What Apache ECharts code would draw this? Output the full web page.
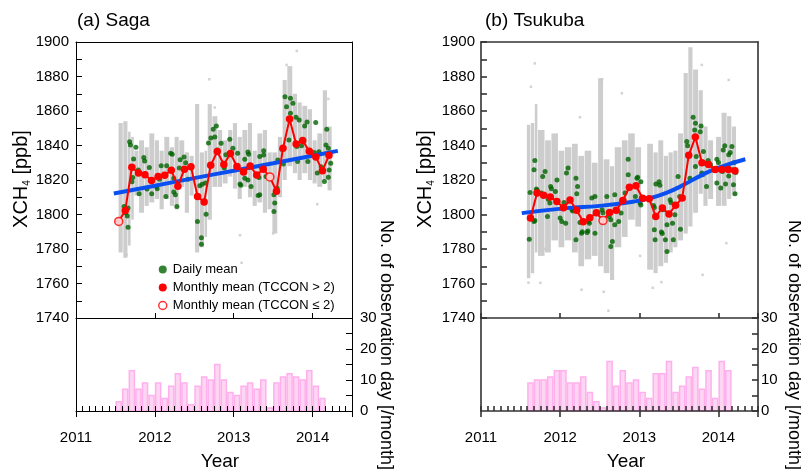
<!DOCTYPE html>
<html><head><meta charset="utf-8">
<script src="https://cdn.jsdelivr.net/npm/echarts@6/dist/echarts.min.js"></script>
<style>html,body{margin:0;padding:0;background:#fff}#c{width:801px;height:470px}</style>
</head><body><div id="c"></div>
<script>
const FONT = '"Liberation Sans", Arial, Helvetica, sans-serif';

// ---------- categories / ticks ----------
const yearTicks = [2011, 2012, 2013, 2014];
const sagaMonths = ['2011-07','2011-08','2011-09','2011-10','2011-11','2011-12','2012-01','2012-02','2012-03','2012-04','2012-05','2012-06','2012-07','2012-08','2012-09','2012-10','2012-11','2012-12','2013-01','2013-02','2013-03','2013-04','2013-05','2013-06','2013-07','2013-08','2013-09','2013-10','2013-11','2013-12','2014-01','2014-02','2014-03'];
const tsukubaMonths = ['2011-08','2011-09','2011-10','2011-11','2011-12','2012-01','2012-02','2012-03','2012-04','2012-05','2012-06','2012-07','2012-08','2012-09','2012-10','2012-11','2012-12','2013-01','2013-02','2013-03','2013-04','2013-05','2013-06','2013-07','2013-08','2013-09','2013-10','2013-11','2013-12','2014-01','2014-02','2014-03'];

// ---------- monthly means (ppb) ----------
const sagaMonthlyMean = [1796,1802.3,1827.4,1824,1823,1819.7,1822,1822.8,1825.7,1816.4,1826.3,1827.7,1810.4,1807.3,1828.5,1836.5,1829,1835.4,1827.8,1824.7,1828.1,1822.9,1826.3,1821.8,1813.5,1838.4,1855.3,1840.8,1842.9,1836.6,1833.4,1825.3,1834.3];
const sagaLowIdx = [0, 23];          // TCCON <= 2
const tsukubaMonthlyMean = [1797.9,1812.4,1811.1,1810.2,1807.6,1803.9,1808.4,1802.4,1795.8,1798.1,1801,1796.5,1801.2,1802.4,1808.1,1815.8,1816.7,1809.4,1809.1,1798.9,1803.7,1800.3,1805.3,1809.5,1834.3,1844.9,1830,1829,1826.1,1826.1,1826.1,1825.3];
const tsukubaLowIdx = [11];

// ---------- number of observation days per month ----------
const sagaObsDays = [3,7,13,7,9,5,9,4,8,12,9,2,8,11,10,15,10,6,5,8,9,7,10,1,9,11,12,11,10,13,8,4];
const tsukubaObsDays = [9,10,10,11,13,13,9,9,11,6,3,1,16,8,13,9,10,6,4,12,12,16,6,8,11,14,7,13,4,16,13];

// ---------- trend lines ----------
const sagaTrendYears = [2011.48,2012.0,2012.5,2013.0,2013.5,2014.0,2014.32];
const sagaTrendValues = [1812.2,1816.7,1821.1,1825.4,1829.7,1834.1,1836.9];
const tsukubaTrendYears = [2011.515,2012.08,2012.5,2012.93,2013.14,2013.35,2013.56,2013.77,2013.98,2014.34];
const tsukubaTrendValues = [1800.8,1803.7,1805,1807.5,1809.5,1812.7,1817.2,1822.4,1826.8,1832];

// ---------- daily means [year, ppb] ----------
const sagaDaily = [[2011.61,1804.6],[2011.63,1801],[2011.65,1799.2],[2011.66,1792.6],[2011.66,1803.8],[2011.68,1842.2],[2011.69,1840.3],[2011.71,1819],[2011.72,1821.4],[2011.73,1832.2],[2011.76,1839],[2011.79,1825.8],[2011.81,1824],[2011.80,1812],[2011.86,1833],[2011.87,1831],[2011.90,1814.8],[2011.93,1827.2],[2011.96,1812],[2012.02,1816.2],[2012.03,1815],[2012.06,1820.5],[2012.08,1828.2],[2012.14,1810.4],[2012.15,1828.3],[2012.20,1835.5],[2012.22,1835],[2012.24,1821],[2012.24,1813],[2012.26,1811.5],[2012.28,1804.6],[2012.32,1831.8],[2012.31,1827],[2012.37,1833.4],[2012.39,1830],[2012.42,1820.5],[2012.44,1827.4],[2012.54,1795.9],[2012.57,1816.6],[2012.60,1817.5],[2012.64,1818.2],[2012.59,1786.5],[2012.59,1782.8],[2012.65,1800.2],[2012.68,1841.5],[2012.71,1844.4],[2012.74,1849.4],[2012.78,1851.3],[2012.76,1845],[2012.79,1837.4],[2012.84,1841.3],[2012.90,1834.6],[2012.88,1826.9],[2012.95,1843.6],[2012.99,1838.4],[2013.05,1835.5],[2013.04,1827.5],[2013.14,1832],[2013.18,1836.3],[2013.19,1835],[2013.14,1821],[2013.08,1817.7],[2013.09,1817],[2013.22,1816.2],[2013.18,1820],[2013.33,1833.6],[2013.38,1836.9],[2013.38,1834.5],[2013.35,1827.4],[2013.31,1811],[2013.33,1811.5],[2013.30,1822.6],[2013.32,1821.5],[2013.41,1822],[2013.51,1811.4],[2013.52,1806.6],[2013.51,1801.7],[2013.55,1815.2],[2013.56,1831.6],[2013.61,1837.8],[2013.63,1829.3],[2013.65,1868.3],[2013.67,1862.5],[2013.72,1867.4],[2013.75,1864.5],[2013.72,1858.7],[2013.70,1843.2],[2013.79,1856.4],[2013.83,1854.8],[2013.80,1839.4],[2013.81,1830.7],[2013.90,1851.3],[2013.93,1853.6],[2013.86,1839.8],[2013.94,1830.7],[2014.04,1853.3],[2014.02,1835.9],[2014.06,1824],[2014.08,1836.4],[2014.18,1849.4],[2014.17,1840.3],[2014.20,1838.4],[2014.21,1825.8],[2014.23,1829.7],[2014.20,1821.6],[2014.15,1819.1],[2014.11,1827.7]];
const tsukubaDaily = [[2011.61,1785.7],[2011.62,1812.7],[2011.67,1796],[2011.68,1796.5],[2011.68,1831.3],[2011.67,1825.9],[2011.70,1814.8],[2011.71,1814],[2011.76,1812.4],[2011.78,1822],[2011.81,1824.9],[2011.84,1798.8],[2011.85,1808.9],[2011.87,1806.6],[2011.88,1816.2],[2011.89,1815],[2011.94,1813.3],[2011.96,1820],[2012.00,1797.9],[2012.02,1796],[2012.05,1806.9],[2012.07,1795],[2012.08,1824],[2012.10,1826.9],[2012.15,1802.7],[2012.16,1802],[2012.20,1821],[2012.22,1816.2],[2012.21,1812],[2012.20,1785.3],[2012.25,1795.4],[2012.27,1789.2],[2012.28,1790],[2012.34,1789.6],[2012.35,1790.5],[2012.36,1796],[2012.37,1795],[2012.40,1809.5],[2012.44,1810.4],[2012.46,1800.8],[2012.44,1789.2],[2012.53,1802.7],[2012.54,1801],[2012.59,1810.4],[2012.62,1798.8],[2012.64,1796.9],[2012.64,1781.4],[2012.66,1784.3],[2012.69,1811.4],[2012.69,1794],[2012.74,1796],[2012.77,1800.8],[2012.82,1812.4],[2012.86,1823],[2012.86,1832],[2012.95,1810.4],[2012.97,1821],[2012.98,1821.6],[2013.02,1819],[2013.01,1806.6],[2013.02,1805.5],[2013.18,1805.2],[2013.19,1804],[2013.21,1817.7],[2013.25,1819],[2013.26,1817],[2013.19,1791.1],[2013.20,1785.3],[2013.28,1789.8],[2013.29,1789],[2013.33,1785.3],[2013.35,1778.5],[2013.30,1802.7],[2013.35,1794],[2013.39,1808.5],[2013.40,1807],[2013.42,1795],[2013.43,1785.3],[2013.45,1799.8],[2013.49,1822],[2013.52,1791.5],[2013.51,1810.4],[2013.60,1842.3],[2013.61,1839.8],[2013.62,1834.6],[2013.64,1821],[2013.68,1856.4],[2013.71,1852.9],[2013.70,1849],[2013.72,1833.6],[2013.71,1827.8],[2013.78,1851.3],[2013.77,1848],[2013.81,1836.5],[2013.79,1824],[2013.80,1823],[2013.83,1829.7],[2013.87,1831.3],[2013.90,1828.7],[2013.85,1816.2],[2013.98,1832],[2014.00,1830.1],[2013.98,1818.2],[2014.02,1825.9],[2014.05,1825],[2014.06,1837.4],[2014.08,1839.8],[2014.03,1815.3],[2014.09,1817.7],[2014.13,1834.6],[2014.15,1835.9],[2014.17,1839.4],[2014.13,1822.3],[2014.20,1830.1],[2014.19,1817.2],[2014.21,1812],[2014.22,1824.3],[2014.17,1825.9],[2014.10,1827.8]];

// ---------- individual measurements: spread per period [from, to, low, high] ----------
const sagaSpread = [[2011.54,2011.60,1778,1853],[2011.60,2011.66,1775,1854],[2011.66,2011.70,1782,1848],[2011.70,2011.74,1797,1845],[2011.74,2011.80,1811,1837],[2011.80,2011.87,1801,1843],[2011.87,2011.93,1805,1839],[2011.93,2012.00,1807,1847],[2012.00,2012.06,1809,1843],[2012.06,2012.12,1803,1837],[2012.12,2012.19,1809,1845],[2012.19,2012.25,1805,1839],[2012.25,2012.31,1803,1845],[2012.31,2012.38,1816,1843],[2012.38,2012.44,1801,1836],[2012.44,2012.50,1811,1834],[2012.51,2012.57,1778,1864],[2012.57,2012.63,1781,1836],[2012.63,2012.67,1787,1837],[2012.67,2012.73,1797,1864],[2012.73,2012.80,1816,1857],[2012.80,2012.86,1816,1849],[2012.86,2012.93,1818,1843],[2012.93,2012.99,1822,1849],[2012.99,2013.05,1815,1853],[2013.05,2013.11,1809,1845],[2013.11,2013.18,1816,1849],[2013.18,2013.24,1810,1853],[2013.24,2013.30,1805,1837],[2013.30,2013.37,1807,1847],[2013.37,2013.43,1801,1849],[2013.43,2013.49,1803,1836],[2013.49,2013.56,1789,1836],[2013.56,2013.62,1810,1845],[2013.62,2013.68,1820,1878],[2013.68,2013.75,1828,1886],[2013.75,2013.81,1824,1870],[2013.81,2013.87,1820,1865],[2013.87,2013.94,1824,1863],[2013.94,2014.00,1820,1861],[2014.00,2014.06,1818,1843],[2014.06,2014.13,1816,1847],[2014.13,2014.19,1820,1872],[2014.19,2014.25,1814,1851]];
const tsukubaSpread = [[2011.58,2011.63,1763,1852],[2011.63,2011.68,1766,1853],[2011.68,2011.72,1778,1864],[2011.72,2011.81,1776,1849],[2011.81,2011.89,1778,1843],[2011.89,2011.98,1785,1847],[2011.98,2012.06,1781,1837],[2012.06,2012.15,1785,1839],[2012.15,2012.23,1778,1841],[2012.23,2012.31,1770,1834],[2012.31,2012.40,1774,1837],[2012.40,2012.48,1776,1830],[2012.48,2012.55,1770,1879],[2012.55,2012.63,1766,1832],[2012.63,2012.69,1762,1828],[2012.69,2012.78,1781,1839],[2012.78,2012.86,1787,1843],[2012.86,2012.95,1797,1847],[2012.95,2013.03,1793,1839],[2013.10,2013.18,1768,1841],[2013.18,2013.24,1766,1836],[2013.24,2013.31,1770,1843],[2013.31,2013.37,1772,1834],[2013.37,2013.43,1778,1836],[2013.43,2013.49,1781,1837],[2013.49,2013.56,1785,1847],[2013.56,2013.62,1789,1882],[2013.62,2013.68,1793,1897],[2013.68,2013.75,1801,1884],[2013.75,2013.81,1812,1872],[2013.81,2013.87,1805,1851],[2013.87,2013.94,1809,1843],[2013.97,2014.04,1805,1845],[2014.04,2014.11,1805,1859],[2014.11,2014.17,1809,1857],[2014.17,2014.23,1811,1851]];
const sagaOutliers = [[2012.69,1878.4],[2013.80,1894.8],[2014.20,1867],[2013.67,1886.7],[2012.76,1862],[2014.06,1806],[2013.08,1788],[2013.50,1789],[2013.10,1772],[2011.64,1776.6]];
const tsukubaOutliers = [[2011.68,1887.6],[2011.63,1874],[2012.53,1878.4],[2012.78,1870.3],[2012.25,1856.4],[2013.79,1886.7],[2014.13,1878],[2011.81,1780],[2011.75,1760.4],[2012.27,1756.4],[2012.55,1755.2],[2012.61,1744.2],[2013.01,1776],[2013.80,1765],[2014.10,1783.4],[2013.17,1757.5],[2013.28,1760.8],[2011.60,1760.5]];

// ---------- helpers ----------
const monthStart = s => { const p = s.split('-').map(Number); return p[0] + (p[1] - 1) / 12; };
const monthMid = s => monthStart(s) + 0.5 / 12;

function spreadItem(params, api) {
  const a = api.coord([api.value(0), api.value(3)]);
  const b = api.coord([api.value(1), api.value(2)]);
  return { type: 'rect', shape: { x: a[0], y: a[1], width: b[0] - a[0] - 0.6, height: b[1] - a[1] }, style: { fill: '#cdcdcd' } };
}
function barItem(params, api) {
  const x0 = api.value(0), v = api.value(1);
  const a = api.coord([x0, v]), b = api.coord([x0 + 1 / 12, 0]);
  return { type: 'rect', shape: { x: a[0] + 0.75, y: a[1], width: b[0] - a[0] - 1.5, height: b[1] - a[1] },
           style: { fill: '#fdd6f4', stroke: '#ffb0ec', lineWidth: 1.5 } };
}

const grids = [], xAxes = [], yAxes = [], series = [];
function panel(left, width, lineColor, lineWidth, yLabelMargin, rLabelMargin, months, means, lowIdx, obs, trendX, trendY, daily, spread, outliers, names) {
  const gTop = grids.length, gBot = gTop + 1;
  grids.push({ left: left, top: 42, width: width, height: 276, outerBoundsMode: 'none' });
  grids.push({ left: left, top: 318, width: width, height: 93, outerBoundsMode: 'none' });
  const ls = { color: lineColor, width: lineWidth };
  const lab = { color: '#000', fontSize: 15, fontFamily: FONT };
  const xi = xAxes.length, yi = yAxes.length;
  xAxes.push({ gridIndex: gTop, type: 'value', min: 2011, max: 2014.5, interval: 1, position: 'bottom',
    axisLine: { show: true, lineStyle: ls }, axisTick: { show: true, inside: true, length: 5, lineStyle: ls },
    axisLabel: { show: false }, splitLine: { show: false } });
  xAxes.push({ gridIndex: gTop, type: 'value', min: 2011, max: 2014.5, position: 'top',
    axisLine: { show: true, lineStyle: ls }, axisTick: { show: false }, axisLabel: { show: false }, splitLine: { show: false } });
  xAxes.push({ gridIndex: gBot, type: 'value', min: 0, max: 42, interval: 1, position: 'bottom', z: 10,
    axisLine: { show: true, lineStyle: ls }, axisTick: { show: true, inside: true, length: 5, lineStyle: ls },
    axisLabel: { show: false }, splitLine: { show: false } });
  xAxes.push({ gridIndex: gBot, type: 'value', min: 2011, max: 2014.5, interval: 1, position: 'bottom', z: 10,
    axisLine: { show: false }, axisTick: { show: true, inside: false, length: 6, lineStyle: ls },
    axisLabel: Object.assign({ margin: 19, formatter: v => yearTicks.indexOf(Math.round(v * 1000) / 1000) >= 0 ? String(Math.round(v)) : '' }, lab),
    splitLine: { show: false } });
  yAxes.push({ gridIndex: gTop, type: 'value', min: 1740, max: 1900, interval: 20, position: 'left',
    axisLine: { show: true, lineStyle: ls }, axisTick: { show: true, inside: true, length: 6, lineStyle: ls },
    minorTick: { show: true, splitNumber: 2, length: 6, lineStyle: ls },
    axisLabel: Object.assign({ margin: yLabelMargin, formatter: v => String(v) }, lab), splitLine: { show: false }, minorSplitLine: { show: false } });
  yAxes.push({ gridIndex: gTop, type: 'value', min: 1740, max: 1900, position: 'right',
    axisLine: { show: true, lineStyle: ls }, axisTick: { show: false }, axisLabel: { show: false }, splitLine: { show: false } });
  yAxes.push({ gridIndex: gBot, type: 'value', min: 0, max: 30, position: 'left',
    axisLine: { show: true, lineStyle: ls }, axisTick: { show: false }, axisLabel: { show: false }, splitLine: { show: false } });
  yAxes.push({ gridIndex: gBot, type: 'value', min: 0, max: 30, interval: 10, position: 'right',
    axisLine: { show: true, lineStyle: ls }, axisTick: { show: true, inside: true, length: 6, lineStyle: ls },
    minorTick: { show: true, splitNumber: 2, length: 6, lineStyle: ls },
    axisLabel: Object.assign({ margin: rLabelMargin, formatter: v => String(v) }, lab), splitLine: { show: false } });

  const top = { xAxisIndex: xi, yAxisIndex: yi };
  series.push(Object.assign({ type: 'custom', name: names[0] + ' spread', renderItem: spreadItem, data: spread,
    encode: { x: [0, 1], y: [2, 3] }, z: 1, silent: true, clip: true }, top));
  series.push(Object.assign({ type: 'scatter', name: names[0] + ' outliers', data: outliers, symbol: 'rect', symbolSize: 2.5,
    itemStyle: { color: '#c8c8c8' }, z: 1, silent: true }, top));
  series.push(Object.assign({ type: 'scatter', name: names[1], data: daily, symbol: 'circle', symbolSize: 5,
    itemStyle: { color: '#006400' }, z: 2, silent: true }, top));
  series.push(Object.assign({ type: 'line', name: names[0] + ' trend', data: trendX.map((x, i) => [x, trendY[i]]), smooth: true,
    showSymbol: false, symbol: 'none', lineStyle: { color: '#0a4ff0', width: 4 }, z: 3, silent: true }, top));
  series.push(Object.assign({ type: 'line', name: names[2], data: months.map((m, i) => [monthMid(m), means[i]]),
    symbol: 'circle', symbolSize: 7.5, showAllSymbol: true, lineStyle: { color: '#ff0000', width: 2 },
    itemStyle: { color: '#ff0000' }, z: 4, silent: true }, top));
  series.push(Object.assign({ type: 'scatter', name: names[3], data: lowIdx.map(i => [monthMid(months[i]), means[i]]),
    symbol: 'circle', symbolSize: 8, itemStyle: { color: '#ffffff', borderColor: '#ff0000', borderWidth: 1.5 }, z: 5, silent: true }, top));
  series.push({ type: 'custom', name: names[0] + ' obs days', xAxisIndex: xi + 3, yAxisIndex: yi + 3, renderItem: barItem,
    data: obs.map((v, i) => [monthStart(months[i]), v]), encode: { x: 0, y: 1 }, z: 2, silent: true });
}

panel(76, 276, '#000000', 1, 7, 8, sagaMonths, sagaMonthlyMean, sagaLowIdx, sagaObsDays, sagaTrendYears, sagaTrendValues,
  sagaDaily, sagaSpread, sagaOutliers, ['Saga', 'Daily mean', 'Monthly mean (TCCON > 2)', 'Monthly mean (TCCON \u2264 2)']);
panel(481, 277, '#333333', 1.6, 6, 3, tsukubaMonths, tsukubaMonthlyMean, tsukubaLowIdx, tsukubaObsDays, tsukubaTrendYears, tsukubaTrendValues,
  tsukubaDaily, tsukubaSpread, tsukubaOutliers, ['Tsukuba', 'Tsukuba daily mean', 'Tsukuba monthly mean', 'Tsukuba monthly mean low']);

const txt = (x, y, text, size, rot, align) => ({ type: 'text', x: x, y: y, rotation: rot || 0, silent: true,
  style: { text: text, fontSize: size, fontFamily: FONT, fill: '#000', align: align || 'center', verticalAlign: 'middle' } });
const xchName = (x, y) => ({ type: 'text', x: x, y: y, rotation: Math.PI / 2, silent: true,
  style: { text: '{a|XCH}{b|4}{a| [ppb]}', fill: '#000', align: 'center', verticalAlign: 'middle',
    rich: { a: { fontSize: 20, fontFamily: FONT, lineHeight: 22, fill: '#000' },
            b: { fontSize: 10, fontFamily: FONT, lineHeight: 10, verticalAlign: 'bottom', fill: '#000' } } } });

const chart = echarts.init(document.getElementById('c'), null, { renderer: 'canvas' });
chart.setOption({
  animation: false,
  backgroundColor: '#ffffff',
  grid: grids, xAxis: xAxes, yAxis: yAxes, series: series,
  legend: { orient: 'vertical', left: 158, top: 261, padding: 0, itemGap: 1, itemWidth: 10, itemHeight: 8, selectedMode: false,
    textStyle: { fontSize: 13, fontFamily: FONT, color: '#000', lineHeight: 17 },
    data: [ { name: 'Daily mean', icon: 'circle' },
            { name: 'Monthly mean (TCCON > 2)', icon: 'circle' },
            { name: 'Monthly mean (TCCON \u2264 2)', icon: 'circle', itemStyle: { color: '#ffffff', borderColor: '#ff0000', borderWidth: 1.5 } } ] },
  graphic: [
    txt(77, 20.5, '(a) Saga', 19, 0, 'left'),
    txt(485, 20.5, '(b) Tsukuba', 19, 0, 'left'),
    xchName(21.5, 179),
    xchName(425, 179),
    txt(386, 345, 'No. of observation day [/month]', 18, -Math.PI / 2),
    txt(794, 345, 'No. of observation day [/month]', 18, -Math.PI / 2),
    txt(220, 462, 'Year', 19),
    txt(626, 462, 'Year', 19)
  ]
});
</script></body></html>
